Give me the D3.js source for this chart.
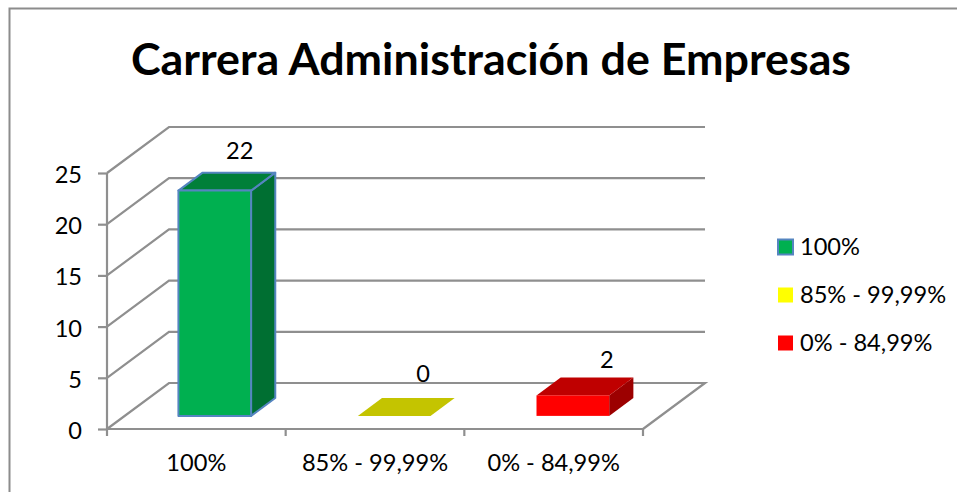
<!DOCTYPE html>
<html>
<head>
<meta charset="utf-8">
<script src="https://cdn.jsdelivr.net/npm/d3@7"></script>
<style>
  html, body { margin: 0; padding: 0; background: #fff; }
  text { font-family: Lato, "Open Sans", sans-serif; fill: #000; }
</style>
</head>
<body>
<div id="chart"></div>
<script>
const categories = ["100%", "85% - 99,99%", "0% - 84,99%"];
const values = [22, 0, 2];
const yTicks = [0, 5, 10, 15, 20, 25];
const frontColors = ["#00b050", "#c4c400", "#ff0000"];
const topColors = ["#007f39", "#c4c400", "#bf0000"];
const sideColors = ["#006f32", "#c4c400", "#9c0000"];
const legendColors = ["#00b050", "#ffff00", "#ff0000"];
const chartTitle = "Carrera Administración de Empresas";

const width = 957, height = 492;
const axisColor = "#8f8f8f";
const barEdge = "#5585c0";
const fontSize = "23.6px";

const svg = d3.select("#chart")
  .append("svg")
  .attr("width", width)
  .attr("height", height)
  .style("display", "block");

// chart frame, cropped on the right and bottom by the screenshot
svg.append("path")
  .attr("d", `M9.5,${height}V8.5H${width}`)
  .attr("fill", "none")
  .attr("stroke", "#8c8c8c")
  .attr("stroke-width", 2);

svg.append("text")
  .attr("x", 491)
  .attr("y", 75)
  .attr("text-anchor", "middle")
  .style("font-size", "44.8px")
  .style("font-weight", "700")
  .text(chartTitle);

// front plane scales
const x = d3.scaleBand().domain(categories).range([107, 643]);
const y = d3.scaleLinear().domain([0, 25]).range([429, 173]);

// depth scale: 0 = front plane, 1 = back wall, returns pixel shift
const depthX = d3.scaleLinear().domain([0, 1]).range([0, 62]);
const depthY = d3.scaleLinear().domain([0, 1]).range([0, -46]);
const barNear = 0.285, barFar = 0.675;
const barInset = 53;  // gap at either side of the bar inside its band
const barShift = 1.5; // the bars sit a touch right of the band centre

function pt(px, py, z) {
  return [px + depthX(z), py + depthY(z)];
}
const line = d3.line();

// gridlines with the slanted floor/side wall part
yTicks.forEach(t => {
  const pts = [pt(x.range()[0], y(t), 0), pt(x.range()[0], y(t), 1), pt(x.range()[1], y(t), 1)];
  if (t === 0) pts.push(pt(x.range()[1], y(t), 0));
  svg.append("path")
    .attr("d", line(pts))
    .attr("fill", "none")
    .attr("stroke", axisColor)
    .attr("stroke-width", 2.2);
});

// y axis
const yAxis = svg.append("g")
  .attr("transform", `translate(${x.range()[0]},0)`)
  .call(d3.axisLeft(y).tickValues(yTicks).tickSize(9).tickPadding(16));
yAxis.selectAll("path, line").attr("stroke", axisColor).attr("stroke-width", 2.2);
yAxis.select(".domain").attr("d", `M0,${y(0)}V${y(25)}`);
yAxis.selectAll("text").style("font-size", fontSize).attr("dy", "0.4em");

// x axis
const xAxis = svg.append("g")
  .attr("transform", `translate(0,${y(0)})`)
  .call(d3.axisBottom(x).tickSize(0).tickPadding(25));
xAxis.select(".domain").attr("stroke", axisColor).attr("stroke-width", 2.2).attr("d", `M${x.range()[0]},0H${x.range()[1]}`);
xAxis.selectAll("text").style("font-size", fontSize);

// band edge ticks
xAxis.selectAll(".band-tick")
  .data([...categories.map(c => x(c)), x.range()[1]])
  .enter()
  .append("line")
  .attr("x1", d => d)
  .attr("x2", d => d)
  .attr("y1", 0)
  .attr("y2", 7)
  .attr("stroke", axisColor)
  .attr("stroke-width", 2.2);

// labels were nudged by hand in the original chart
const labelNudgeX = [1, 5, 10];
const labelNudgeY = [-14, -16, -9];

// 3D bars
categories.forEach((c, i) => {
  const x0 = x(c) + barInset + depthX(barNear) + barShift * (i > 0 ? 1 : 0.5);
  const x1 = x0 + x.bandwidth() - 2 * barInset;
  const top = y(values[i]) + depthY(barNear);
  const base = y(0) + depthY(barNear);
  const dx = depthX(barFar - barNear), dy = depthY(barFar - barNear);
  const g = svg.append("g")
    .attr("stroke", i === 0 ? barEdge : "none")
    .attr("stroke-width", i === 0 ? 2 : 0)
    .attr("stroke-linejoin", "round");

  // right side
  g.append("path")
    .attr("d", line([[x1, base], [x1 + dx, base + dy], [x1 + dx, top + dy], [x1, top]]) + "Z")
    .attr("fill", sideColors[i]);
  // top
  g.append("path")
    .attr("d", line([[x0, top], [x0 + dx, top + dy], [x1 + dx, top + dy], [x1, top]]) + "Z")
    .attr("fill", topColors[i]);
  // front
  g.append("rect")
    .attr("x", x0)
    .attr("y", top)
    .attr("width", x1 - x0)
    .attr("height", base - top)
    .attr("fill", frontColors[i]);

  // data label
  svg.append("text")
    .attr("x", (x0 + x1) / 2 + 24 + labelNudgeX[i])
    .attr("y", top + dy + labelNudgeY[i])
    .attr("text-anchor", "middle")
    .style("font-size", fontSize)
    .text(values[i]);
});

// legend
const legendY = d3.scalePoint().domain(categories).range([247, 343]);
const legend = svg.append("g");
categories.forEach((c, i) => {
  legend.append("rect")
    .attr("x", 778)
    .attr("y", legendY(c) - 7.5)
    .attr("width", 15)
    .attr("height", 15)
    .attr("fill", legendColors[i])
    .attr("stroke", i === 0 ? barEdge : "none")
    .attr("stroke-width", i === 0 ? 2 : 0);
  legend.append("text")
    .attr("x", 800)
    .attr("y", legendY(c) + 8)
    .style("font-size", fontSize)
    .text(c);
});
</script>
</body>
</html>
